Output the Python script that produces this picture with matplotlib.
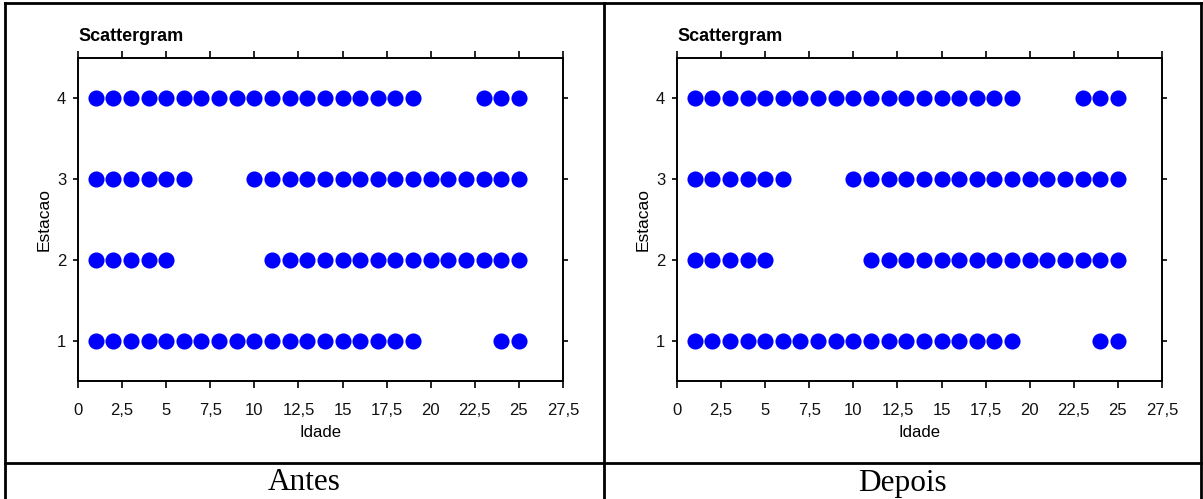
import matplotlib.pyplot as plt
from matplotlib.lines import Line2D
from matplotlib.ticker import FuncFormatter

# Idade values per Estacao (same data in both panels)
idade_e1 = [1, 2, 3, 4, 5, 6, 7, 8, 9, 10, 11, 12, 13, 14, 15, 16, 17, 18, 19, 24, 25]
idade_e2 = [1, 2, 3, 4, 5, 11, 12, 13, 14, 15, 16, 17, 18, 19, 20, 21, 22, 23, 24, 25]
idade_e3 = [1, 2, 3, 4, 5, 6, 10, 11, 12, 13, 14, 15, 16, 17, 18, 19, 20, 21, 22, 23, 24, 25]
idade_e4 = [1, 2, 3, 4, 5, 6, 7, 8, 9, 10, 11, 12, 13, 14, 15, 16, 17, 18, 19, 23, 24, 25]
estacoes = [1, 2, 3, 4]

x_ticks = [0, 2.5, 5, 7.5, 10, 12.5, 15, 17.5, 20, 22.5, 25, 27.5]
captions = ["Antes", "Depois"]

W, H = 1203, 499
fig = plt.figure(figsize=(W / 100, H / 100), dpi=100)

sans = ["Liberation Sans", "DejaVu Sans"]
serif = ["Liberation Serif", "DejaVu Serif"]


def scattergram(left_px):
    ax = fig.add_axes([left_px / W, 1 - 381 / H, 485 / W, 323 / H])
    for est, idade in zip(estacoes, [idade_e1, idade_e2, idade_e3, idade_e4]):
        ax.plot(idade, [est] * len(idade), "o", color="#0000ff", ms=11.6,
                mec="#0000ff", mew=0, clip_on=False)
    ax.set_xlim(0, 27.5)
    ax.set_ylim(0.5, 4.5)
    ax.set_xticks(x_ticks)
    ax.set_yticks(estacoes)
    ax.xaxis.set_major_formatter(FuncFormatter(lambda v, p: ("%g" % v).replace(".", ",")))
    ax.tick_params(axis="x", direction="out", top=True, length=5, width=1.2,
                   pad=11, labelsize=12, colors="black")
    ax.tick_params(axis="y", direction="out", right=True, length=3.5, width=1.2,
                   pad=5, labelsize=12, colors="black")
    for lab in ax.get_xticklabels() + ax.get_yticklabels():
        lab.set_family(sans)
        lab.set_color("#111111")
    for s in ax.spines.values():
        s.set_linewidth(1.4)
    ax.set_xlabel("Idade", family=sans, fontsize=12, labelpad=5)
    ax.set_ylabel("Estacao", family=sans, fontsize=12.5, labelpad=4)
    ax.set_title("Scattergram", family=sans, fontsize=13, fontweight="bold",
                 loc="left", pad=12)
    return ax


scattergram(78)
scattergram(677)

# table borders
lw = 2
fig.add_artist(Line2D([5 / W, 1201 / W], [1 - 2.5 / H] * 2, transform=fig.transFigure, color="black", lw=lw))
fig.add_artist(Line2D([5 / W, 1201 / W], [1 - 463 / H] * 2, transform=fig.transFigure, color="black", lw=lw))
for xp in [5, 604, 1201]:
    fig.add_artist(Line2D([xp / W] * 2, [0, 1 - 2.5 / H], transform=fig.transFigure, color="black", lw=lw))

for cx, txt in zip([304, 902], captions):
    fig.text(cx / W, 1 - 483 / H, txt, family=serif, fontsize=22.5, ha="center", va="center")

fig.savefig("out.png", dpi=100)
